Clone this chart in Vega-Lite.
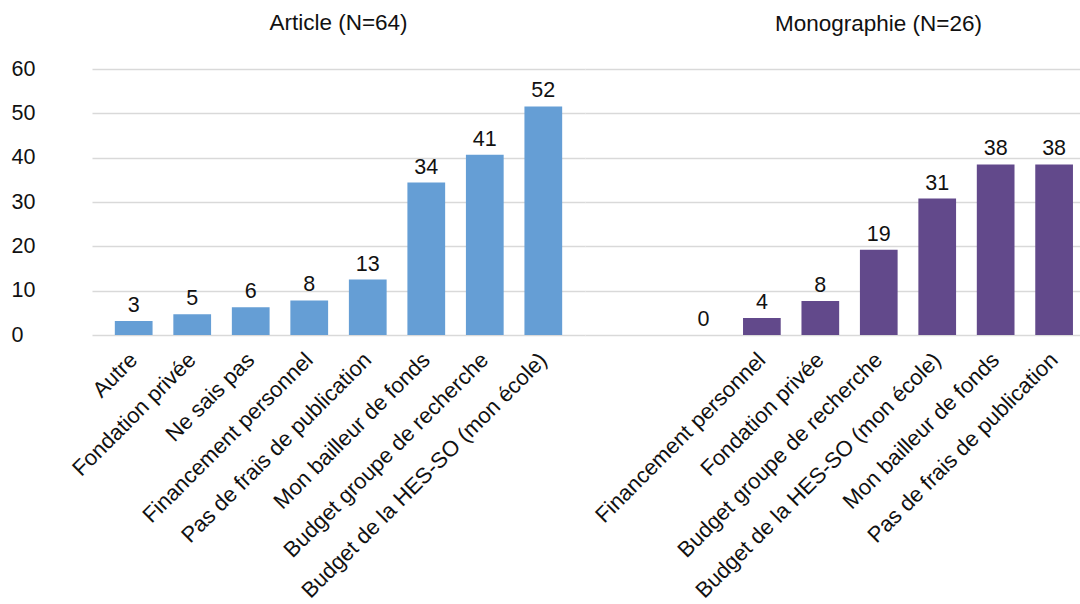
{
  "$schema": "https://vega.github.io/schema/vega-lite/v6.json",
  "padding": {"left": 11, "top": 12, "right": 0, "bottom": 0},
  "background": "white",
  "data": {
    "values": [
      {"type": "Article", "cat": "Autre", "value": 3.13},
      {"type": "Article", "cat": "Fondation privée", "value": 4.69},
      {"type": "Article", "cat": "Ne sais pas", "value": 6.25},
      {"type": "Article", "cat": "Financement personnel", "value": 7.81},
      {"type": "Article", "cat": "Pas de frais de publication", "value": 12.5},
      {"type": "Article", "cat": "Mon bailleur de fonds", "value": 34.38},
      {"type": "Article", "cat": "Budget groupe de recherche", "value": 40.63},
      {"type": "Article", "cat": "Budget de la HES-SO (mon école)", "value": 51.56},
      {"type": "Monographie", "cat": "", "value": 0},
      {"type": "Monographie", "cat": "Financement personnel", "value": 3.85},
      {"type": "Monographie", "cat": "Fondation privée", "value": 7.69},
      {"type": "Monographie", "cat": "Budget groupe de recherche", "value": 19.23},
      {"type": "Monographie", "cat": "Budget de la HES-SO (mon école)", "value": 30.77},
      {"type": "Monographie", "cat": "Mon bailleur de fonds", "value": 38.46},
      {"type": "Monographie", "cat": "Pas de frais de publication", "value": 38.46}
    ]
  },
  "spacing": 0,
  "hconcat": [
    {
      "width": 493,
      "height": 266,
      "title": {"text": "Article (N=64)", "frame": "group", "anchor": "middle", "baseline": "alphabetic", "offset": 5.5, "fontSize": 22.5, "fontWeight": "normal", "font": "Liberation Sans", "color": "#111"},
      "transform": [{"filter": "datum.type === 'Article'"}],
      "encoding": {
        "x": {
          "field": "cat", "type": "nominal", "sort": null,
          "scale": {"paddingInner": 0.355, "paddingOuter": 0.39},
          "axis": {"title": null, "labelAngle": -45, "labelAlign": "right", "labelBaseline": "middle", "labelPadding": 21, "labelFontSize": 22, "labelLimit": 400, "labelOverlap": false, "ticks": false, "domain": false, "grid": false, "labelColor": "#111", "labelFont": "Liberation Sans"}
        },
        "y": {
          "field": "value", "type": "quantitative",
          "scale": {"domain": [0, 60], "nice": false},
          "axis": {"title": null, "values": [0, 10, 20, 30, 40, 50, 60], "labelAlign": "left", "labelBaseline": "middle", "labelPadding": 81, "labelFontSize": 21.5, "ticks": false, "domain": false, "grid": true, "gridColor": "#d9d9d9", "gridWidth": 1.5, "labelColor": "#111", "labelFont": "Liberation Sans"}
        }
      },
      "layer": [
        {"mark": {"type": "bar", "color": "#659ED5"}},
        {"mark": {"type": "text", "baseline": "alphabetic", "dy": -9, "fontSize": 21.5, "font": "Liberation Sans", "color": "#111"},
         "encoding": {"text": {"field": "value", "type": "quantitative", "format": ".0f"}}}
      ]
    },
    {
      "width": 495,
      "height": 266,
      "title": {"text": "Monographie (N=26)", "frame": "group", "anchor": "middle", "dx": 46, "baseline": "alphabetic", "offset": 15.5, "fontSize": 22.5, "fontWeight": "normal", "font": "Liberation Sans", "color": "#111"},
      "transform": [{"filter": "datum.type === 'Monographie'"}],
      "encoding": {
        "x": {
          "field": "cat", "type": "nominal", "sort": null,
          "scale": {"paddingInner": 0.355, "paddingOuter": 0.912, "align": 0.934},
          "axis": {"title": null, "labelAngle": -45, "labelAlign": "right", "labelBaseline": "middle", "labelPadding": 21, "labelFontSize": 22, "labelLimit": 400, "labelOverlap": false, "ticks": false, "domain": false, "grid": false, "labelColor": "#111", "labelFont": "Liberation Sans"}
        },
        "y": {
          "field": "value", "type": "quantitative",
          "scale": {"domain": [0, 60], "nice": false},
          "axis": {"title": null, "values": [0, 10, 20, 30, 40, 50, 60], "labels": false, "ticks": false, "domain": false, "grid": true, "gridColor": "#d9d9d9", "gridWidth": 1.5}
        }
      },
      "layer": [
        {"mark": {"type": "bar", "color": "#62498B"}},
        {"mark": {"type": "text", "baseline": "alphabetic", "dy": -9, "fontSize": 21.5, "font": "Liberation Sans", "color": "#111"},
         "encoding": {"text": {"field": "value", "type": "quantitative", "format": ".0f"}}}
      ]
    }
  ],
  "config": {"view": {"stroke": null}}
}
